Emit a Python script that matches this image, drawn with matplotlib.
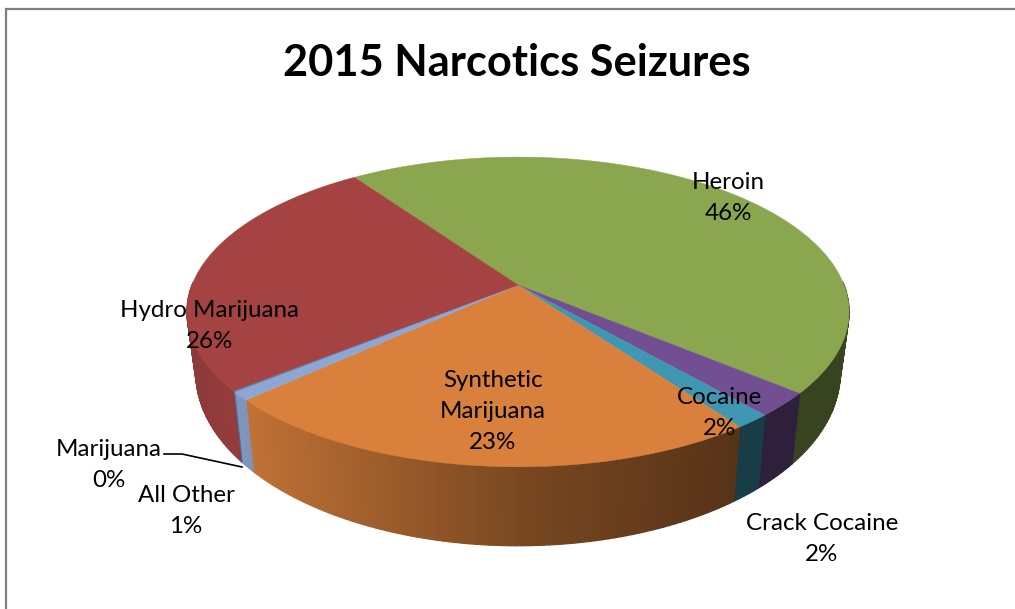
import numpy as np
import matplotlib
matplotlib.use("Agg")
import matplotlib.pyplot as plt
from matplotlib.collections import PolyCollection
from matplotlib.colors import to_rgb

# ---- data (clockwise from the start angle) ----
categories = ["Heroin", "Cocaine", "Crack Cocaine", "Synthetic\nMarijuana",
              "All Other", "Marijuana", "Hydro Marijuana"]
values = [45.8, 2.5, 1.5, 23.1, 0.9, 0.1, 26.1]
title = "2015 Narcotics Seizures"

# ---- style ----
colors = ["#8AA64F", "#714F92", "#3F97B1", "#D9803C", "#8EA7D2", "#4F81BD", "#A54343"]
label_xy = [(728, 198), (720, 413), (822, 539), (493, 411.5),
            (186, 511), (109, 465), (210, 326)]
start_angle = 125.0
font = ["Lato", "DejaVu Sans"]

# ---- projection of the tilted disc (pixel coordinates) ----
CX, APEX_Y, R, K, B = 518.0, 285.0, 326.0, 0.174, -100.6


def top_rim(deg):
    t = np.radians(deg)
    x, y = np.cos(t), np.sin(t)
    d = 1 + K * y
    return CX + R * x / d, (APEX_Y + B * y) / d


def bottom_rim(deg):
    xs, ys = top_rim(deg)
    return CX + 0.973 * (xs - CX), 25.7 + 1.114 * ys


def shade(x):
    return np.interp(x, [190, 232, 250, 518, 735, 850],
                     [0.86, 0.90, 0.88, 0.56, 0.40, 0.41])


fig = plt.figure(figsize=(10.15, 6.09), dpi=100, facecolor="white")
ax = fig.add_axes([0, 0, 1, 1])
ax.set_xlim(0, 1015)
ax.set_ylim(609, 0)
ax.axis("off")

# chart frame
ax.plot([6, 6, 1015], [609, 9, 9], color="#7F7F7F", lw=1.6, solid_joinstyle="miter",
        zorder=1)

frac = np.array(values) / np.sum(values)
edges = start_angle - 360 * np.concatenate([[0], np.cumsum(frac)])

# side walls (only the part of the rim facing the viewer)
for a0, a1, col in zip(edges[:-1], edges[1:], colors):
    ang = np.linspace(a0, a1, max(2, int(round(abs(a1 - a0)))) + 1)
    tx, ty = top_rim(ang)
    bx, by = bottom_rim(ang)
    base = np.array(to_rgb(col))
    polys, cols = [], []
    for i in range(len(ang) - 1):
        if np.sin(np.radians(0.5 * (ang[i] + ang[i + 1]))) > 0.02:
            continue
        polys.append([(tx[i], ty[i]), (tx[i + 1], ty[i + 1]),
                      (bx[i + 1], by[i + 1]), (bx[i], by[i])])
        cols.append(base * shade(0.5 * (tx[i] + tx[i + 1])))
    if polys:
        ax.add_collection(PolyCollection(polys, facecolors=cols, edgecolors=cols,
                                         linewidths=0.9, zorder=2))

# top faces
for a0, a1, col in zip(edges[:-1], edges[1:], colors):
    ang = np.linspace(a0, a1, max(2, int(abs(a1 - a0) * 2)) + 1)
    tx, ty = top_rim(ang)
    ax.fill(np.r_[CX, tx], np.r_[APEX_Y, ty], facecolor=col, edgecolor=col,
            lw=0.3, zorder=3)

# leader line for the Marijuana label
ax.plot([164, 182, 242], [454, 454, 467], color="black", lw=1.2, zorder=4)

# labels
for name, v, (x, y) in zip(categories, values, label_xy):
    ax.text(x, y, f"{name}\n{round(v)}%", ha="center", va="center", fontsize=17.4,
            family=font, color="black", linespacing=1.56, zorder=5)

ax.text(517, 62.5, title, ha="center", va="center", fontsize=31.2, fontweight="bold",
        family=font, color="black", zorder=5)

fig.savefig("out.png", dpi=100)
